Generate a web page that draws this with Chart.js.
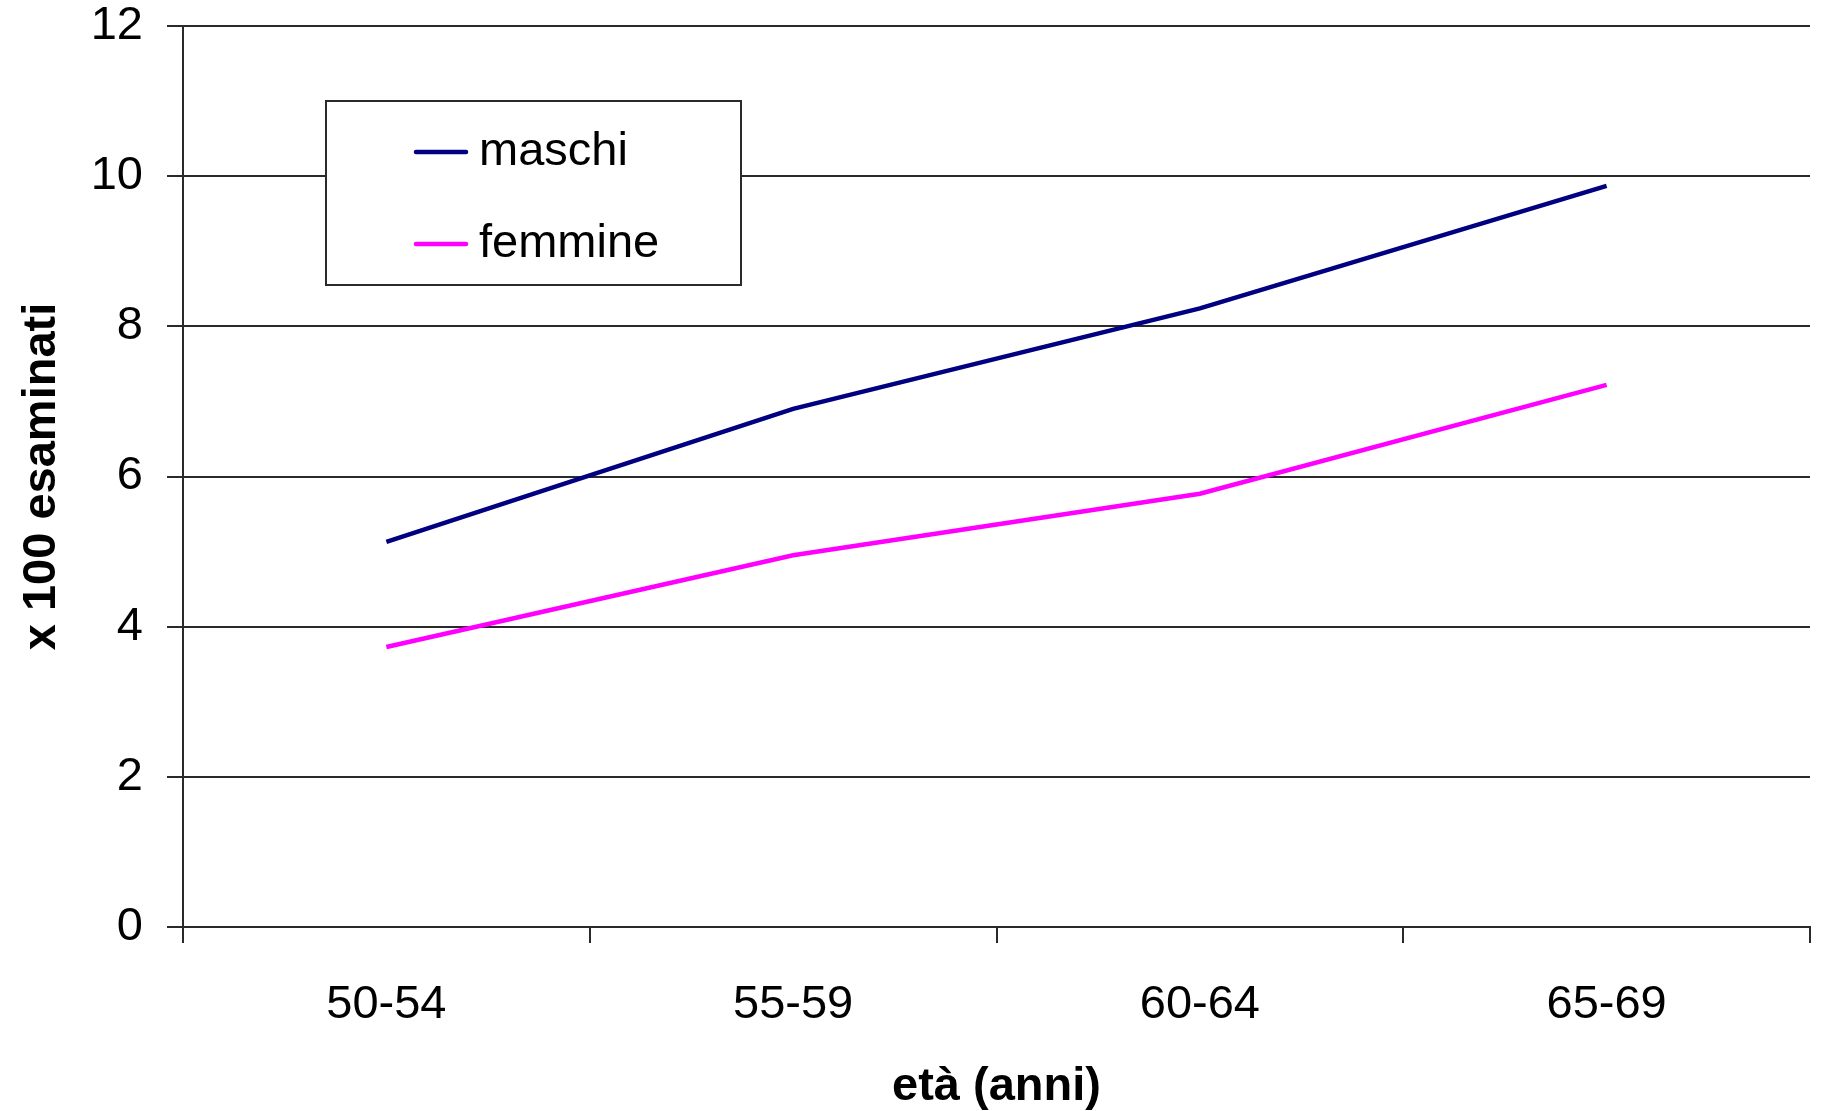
<!DOCTYPE html>
<html>
<head>
<meta charset="utf-8">
<script src="https://cdn.jsdelivr.net/npm/chart.js@4/dist/chart.umd.min.js"></script>
<style>
  html, body { margin: 0; padding: 0; background: #fff; }
  #wrap { width: 1821px; height: 1111px; }
</style>
</head>
<body>
<div id="wrap"><canvas id="c" width="1821" height="1111"></canvas></div>
<script>
// Age classes and rates per 100 examined
const categories = ['50-54', '55-59', '60-64', '65-69'];
const maschi = [5.13, 6.90, 8.24, 9.87];
const femmine = [3.73, 4.95, 5.77, 7.22];
const seriesLabels = ['maschi', 'femmine'];
const yMin = 0, yMax = 12, yStep = 2;

const FONT = 'Arial, "Liberation Sans", sans-serif';
const AXIS = '#2a2a2a';

// Boxed legend drawn inside the plot area
const boxLegend = {
  id: 'boxLegend',
  afterDraw(chart, args, o) {
    const ctx = chart.ctx;
    ctx.save();
    ctx.fillStyle = '#fff';
    ctx.fillRect(o.x, o.y, o.w, o.h);
    ctx.strokeStyle = AXIS;
    ctx.lineWidth = 2;
    ctx.strokeRect(o.x, o.y, o.w, o.h);
    ctx.font = o.fontSize + 'px ' + FONT;
    ctx.textBaseline = 'middle';
    ctx.textAlign = 'left';
    chart.data.datasets.forEach((ds, i) => {
      const y = o.firstRow + i * o.rowGap;
      ctx.strokeStyle = ds.borderColor;
      ctx.lineWidth = 4.5;
      ctx.lineCap = 'round';
      ctx.beginPath();
      ctx.moveTo(o.lineX, y);
      ctx.lineTo(o.lineX + o.lineLen, y);
      ctx.stroke();
      ctx.fillStyle = '#000';
      ctx.fillText(ds.label, o.textX, y);
    });
    ctx.restore();
  }
};

new Chart(document.getElementById('c'), {
  type: 'line',
  data: {
    labels: categories,
    datasets: [
      { label: seriesLabels[0], data: maschi, borderColor: '#000080', backgroundColor: '#000080' },
      { label: seriesLabels[1], data: femmine, borderColor: '#FF00FF', backgroundColor: '#FF00FF' }
    ]
  },
  options: {
    responsive: false,
    animation: false,
    devicePixelRatio: 1,
    layout: { padding: { top: 26, right: 11, left: 0, bottom: 0 } },
    elements: {
      line: { borderWidth: 4.5, tension: 0 },
      point: { radius: 0, hoverRadius: 0 }
    },
    plugins: {
      legend: { display: false },
      tooltip: { enabled: false },
      boxLegend: { x: 326, y: 101, w: 415, h: 184, firstRow: 152, rowGap: 92, lineX: 416, lineLen: 50, textX: 479, fontSize: 47 }
    },
    scales: {
      x: {
        offset: true,
        grid: { offset: true, drawOnChartArea: false, drawTicks: true, tickLength: 16, color: AXIS, lineWidth: 2 },
        border: { display: true, color: AXIS, width: 2 },
        ticks: { color: '#000', font: { family: FONT, size: 47, lineHeight: 1 }, padding: 39, maxRotation: 0 },
        title: { display: true, text: 'età (anni)', color: '#000', font: { family: FONT, size: 47, weight: 'bold', lineHeight: 1 }, padding: { top: 0, bottom: 0 } },
        afterFit(scale) { scale.height = 184; }
      },
      y: {
        min: yMin,
        max: yMax,
        grid: { drawOnChartArea: true, drawTicks: true, tickLength: 16, color: AXIS, lineWidth: 2 },
        border: { display: true, color: AXIS, width: 2 },
        ticks: { stepSize: yStep, color: '#000', font: { family: FONT, size: 47, lineHeight: 1 }, padding: 24 },
        title: { display: true, text: 'x 100 esaminati', color: '#000', font: { family: FONT, size: 47, weight: 'bold', lineHeight: 1 }, padding: { top: 19, bottom: 0 } },
        afterFit(scale) {
          scale.width = 183;
          scale.paddingTop = 0;
          scale.paddingBottom = 0;
        }
      }
    }
  },
  plugins: [boxLegend]
});
</script>
</body>
</html>
